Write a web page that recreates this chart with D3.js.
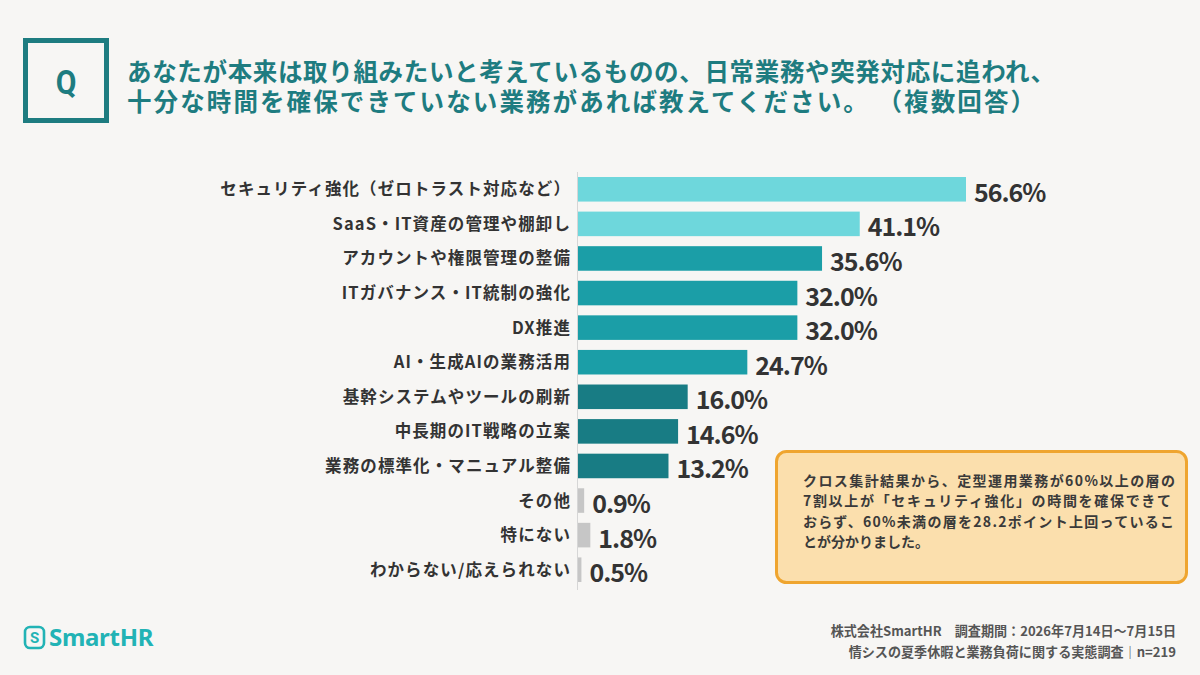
<!DOCTYPE html>
<html><head><meta charset="utf-8">
<script src="https://cdn.jsdelivr.net/npm/d3@7"></script>
<style>
html,body{margin:0;padding:0;background:#F7F6F4;}
svg{display:block;font-family:"Noto Sans CJK JP","Noto Sans",sans-serif;}
</style></head>
<body>
<svg id="chart" width="1200" height="675"></svg>
<script>
const titleLines = ["あなたが本来は取り組みたいと考えているものの、日常業務や突発対応に追われ、",
                    "十分な時間を確保できていない業務があれば教えてください。 （複数回答）"];
const categories = ["セキュリティ強化（ゼロトラスト対応など）","SaaS・IT資産の管理や棚卸し","アカウントや権限管理の整備",
  "ITガバナンス・IT統制の強化","DX推進","AI・生成AIの業務活用","基幹システムやツールの刷新","中長期のIT戦略の立案",
  "業務の標準化・マニュアル整備","その他","特にない","わからない/応えられない"];
const values = [56.6, 41.1, 35.6, 32.0, 32.0, 24.7, 16.0, 14.6, 13.2, 0.9, 1.8, 0.5];
const tiers = ["top","top","upper","upper","upper","upper","middle","middle","middle","other","other","other"];
const noteLines = ["クロス集計結果から、定型運用業務が60%以上の層の",
                   "7割以上が「セキュリティ強化」の時間を確保できて",
                   "おらず、60%未満の層を28.2ポイント上回っているこ",
                   "とが分かりました。"];
const footerLines = ["株式会社SmartHR　調査期間：2026年7月14日～7月15日",
                     "情シスの夏季休暇と業務負荷に関する実態調査｜n=219"];

const svg = d3.select("#chart");
svg.append("rect").attr("width",1200).attr("height",675).attr("fill","#F7F6F4");

const teal = "#1E7C80";
// Q box
svg.append("rect").attr("x",25.5).attr("y",40.5).attr("width",81).attr("height",80)
  .attr("fill","none").attr("stroke",teal).attr("stroke-width",5);
svg.append("text").attr("x",66).attr("y",94).attr("text-anchor","middle")
  .attr("font-size",30).attr("font-weight",700).attr("fill",teal)
  .attr("font-family","Roboto,'Noto Sans',sans-serif").attr("transform","translate(66,94) scale(1,1.08) translate(-66,-94)").text("Q");

// title (one text, two lines)
const tl = [928, 908];
const title = svg.append("text").attr("font-size",24.5).attr("font-weight",700).attr("fill",teal);
title.selectAll("tspan").data(titleLines).join("tspan")
  .attr("x",127).attr("y",(d,i)=>81+i*29.5)
  .attr("textLength",(d,i)=>tl[i]).attr("lengthAdjust","spacing").text(d=>d);

// scales
const x = d3.scaleLinear().domain([0,60]).range([578, 578+60*6.855]);
const y = d3.scaleBand().domain(categories).range([172,587]).paddingInner(0.29).paddingOuter(0.145);
const color = d3.scaleOrdinal().domain(["top","upper","middle","other"])
  .range(["#6ED7DC","#1B9EA7","#187C84","#C6C6C6"]);

const data = categories.map((c,i)=>({c, v:values[i], t:tiers[i]}));

svg.append("line").attr("x1",x(0)-0.5).attr("x2",x(0)-0.5).attr("y1",172).attr("y2",590)
  .attr("stroke","#D6D6D6").attr("stroke-width",1);

svg.selectAll("rect.bar").data(data).join("rect").attr("class","bar")
  .attr("x",x(0)).attr("y",d=>y(d.c)).attr("width",d=>x(d.v)-x(0)).attr("height",y.bandwidth())
  .attr("fill",d=>color(d.t));

svg.selectAll("text.cat").data(data).join("text").attr("class","cat")
  .attr("x",571).attr("y",d=>y(d.c)+y.bandwidth()/2+6).attr("text-anchor","end")
  .attr("font-size",16.5).attr("font-weight",700).attr("letter-spacing","1.1px").attr("fill","#333")
  .text(d=>d.c);

svg.selectAll("text.val").data(data).join("text").attr("class","val")
  .attr("x",d=>x(d.v)+8).attr("y",d=>y(d.c)+y.bandwidth()/2+12.5)
  .attr("font-size",25).attr("font-weight",700).attr("letter-spacing","-1px").attr("fill","#333")
  .text(d=>d.v.toFixed(1)+"%");

// note box
svg.append("rect").attr("x",776.5).attr("y",451.5).attr("width",410).attr("height",131).attr("rx",10)
  .attr("fill","#FBDFAD").attr("stroke","#EFA52F").attr("stroke-width",3);
const nl = [372, 368, 371, null];
svg.selectAll("text.note").data(noteLines).join("text").attr("class","note")
  .attr("x",803).attr("y",(d,i)=>486+i*20.4).attr("font-size",14).attr("font-weight",700).attr("fill","#3a3a3a")
  .each(function(d,i){ if(nl[i]) d3.select(this).attr("textLength",nl[i]).attr("lengthAdjust","spacing"); })
  .text(d=>d);

// footer
svg.selectAll("text.foot").data(footerLines).join("text").attr("class","foot")
  .attr("x",1176).attr("y",(d,i)=>636+i*21).attr("text-anchor","end")
  .attr("font-size",13.1).attr("font-weight",700).attr("fill","#555").text(d=>d);

// logo
const logoC = "#22B3B5";
svg.append("rect").attr("x",25).attr("y",627).attr("width",19).attr("height",21).attr("rx",5)
  .attr("fill","none").attr("stroke",logoC).attr("stroke-width",2.6);
svg.append("text").attr("x",34.5).attr("y",643).attr("text-anchor","middle").attr("font-size",15)
  .attr("font-weight",700).attr("fill",logoC).attr("font-family","Roboto,sans-serif").text("S");
svg.append("text").attr("x",49).attr("y",646).attr("font-size",24).attr("font-weight",700)
  .attr("fill",logoC).attr("font-family","'Noto Sans',Roboto,sans-serif").attr("letter-spacing","-0.3px").text("SmartHR");
</script>
</body></html>
